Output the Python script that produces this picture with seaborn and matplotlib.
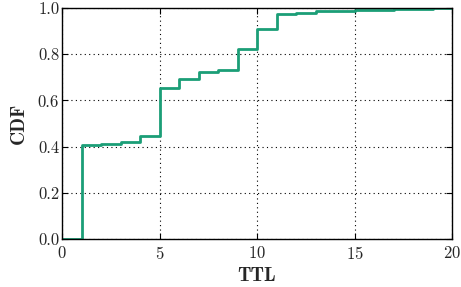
import numpy as np
import pandas as pd
import matplotlib
matplotlib.use("Agg")
import matplotlib.pyplot as plt
import seaborn as sns

ttl = [0, 1, 2, 3, 4, 5, 6, 7, 8, 9, 10, 11, 12, 13, 14, 15, 16, 17, 18, 19, 20]
cdf = [0.0, 0.406, 0.412, 0.418, 0.447, 0.652, 0.692, 0.725, 0.732, 0.823,
       0.907, 0.974, 0.978, 0.985, 0.989, 0.991, 0.993, 0.995, 0.997, 0.999, 1.0]

df = pd.DataFrame({"TTL": ttl, "CDF": cdf})

sns.set_style("whitegrid", {
    "axes.edgecolor": "black",
    "grid.color": "black",
    "grid.linestyle": ":",
    "xtick.direction": "in",
    "ytick.direction": "in",
})
plt.rcParams["font.family"] = ["cmr10", "DejaVu Serif"]
plt.rcParams["axes.formatter.use_mathtext"] = True
plt.rcParams["mathtext.fontset"] = "cm"

fig = plt.figure(figsize=(4.61, 2.87), dpi=100)
ax = fig.add_axes([0.1345, 0.1672, 0.846, 0.805])

sns.lineplot(data=df, x="TTL", y="CDF", drawstyle="steps-post",
             color="#1b9e77", linewidth=2, ax=ax)

ax.set_xlim(0, 20)
ax.set_ylim(0, 1)
ax.set_xticks([0, 5, 10, 15, 20])
ax.set_yticks([0.0, 0.2, 0.4, 0.6, 0.8, 1.0])
ax.set_yticklabels(["0.0", "0.2", "0.4", "0.6", "0.8", "1.0"])
ax.tick_params(axis="both", labelsize=12, length=4, width=0.8, color="black",
               top=True, right=True, bottom=True, left=True)
ax.tick_params(axis="x", pad=4)
ax.tick_params(axis="y", pad=2)
ax.grid(True, color="black", linestyle=(0, (1, 3)), linewidth=0.8)
for sp in ax.spines.values():
    sp.set_linewidth(1.0)
    sp.set_color("black")

ax.set_xlabel("TTL", fontsize=14, family=["cmb10", "DejaVu Serif"], labelpad=4)
ax.set_ylabel("CDF", fontsize=14, family=["cmb10", "DejaVu Serif"], labelpad=7)

fig.savefig("out.png", dpi=100)
